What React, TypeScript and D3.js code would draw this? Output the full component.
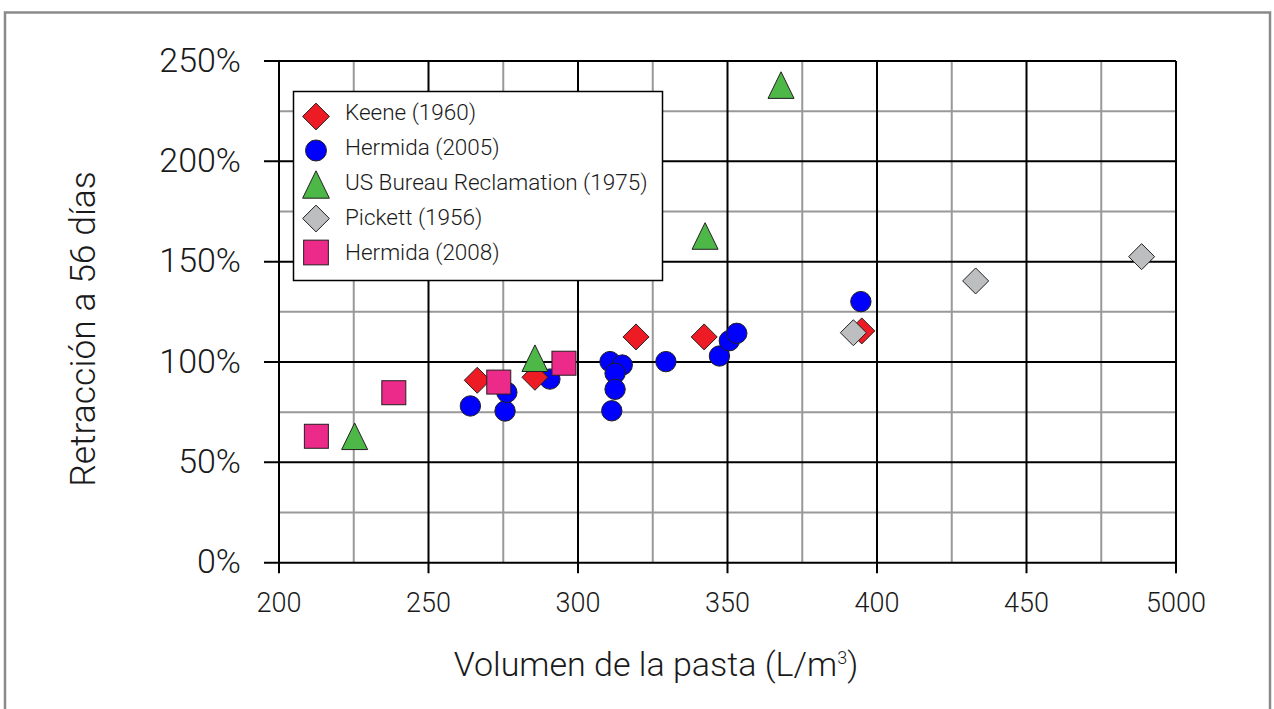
import React from "react";
import * as d3 from "d3";

const xTickValues = [200, 250, 300, 350, 400, 450, 500];
const xTickLabels = ["200", "250", "300", "350", "400", "450", "5000"];
const xMinorValues = [225, 275, 325, 375, 425, 475];
const yTickValues = [0, 50, 100, 150, 200, 250];
const yTickLabels = ["0%", "50%", "100%", "150%", "200%", "250%"];
const yMinorValues = [25, 75, 125, 175, 225];

const keeneX = [266.3, 285.6, 319.4, 342.2, 394.9];
const keeneY = [90.9, 92.4, 112.5, 112.5, 115.5];
const hermida2005X = [264.0, 275.6, 276.2, 290.6, 310.7, 314.8, 312.4, 312.4, 311.3, 329.4, 347.3, 350.6, 353.1, 394.6];
const hermida2005Y = [78.1, 75.6, 84.9, 91.5, 100.2, 98.5, 94.4, 86.4, 75.7, 100.2, 103.0, 110.6, 114.3, 130.1];
const usbrX = [225.3, 285.6, 342.5, 367.9];
const usbrY = [63.0, 101.9, 162.8, 238.0];
const pickettX = [392.1, 433.0, 488.5];
const pickettY = [114.6, 140.4, 152.5];
const hermida2008X = [212.5, 238.4, 273.5, 295.3];
const hermida2008Y = [63.0, 84.7, 90.0, 99.4];

const seriesNames = ["Keene (1960)", "Hermida (2005)", "US Bureau Reclamation (1975)", "Pickett (1956)", "Hermida (2008)"];

const FONT = "Roboto, 'Open Sans', sans-serif";

type Shape = "diamond" | "circle" | "triangle" | "square";

function Marker({ shape, cx, cy, fill, s = 1 }: { shape: Shape; cx: number; cy: number; fill: string; s?: number }) {
  const common = { fill, stroke: "#231f20", strokeWidth: 1 };
  if (shape === "circle") return <circle cx={cx} cy={cy} r={10.2 * s} {...common} />;
  if (shape === "diamond") {
    const h = 13 * s;
    return <path d={`M${cx},${cy - h}L${cx + h},${cy}L${cx},${cy + h}L${cx - h},${cy}Z`} {...common} />;
  }
  if (shape === "triangle") {
    const w = 13 * s, hh = 13.3 * s;
    return <path d={`M${cx},${cy - hh}L${cx + w},${cy + hh}L${cx - w},${cy + hh}Z`} {...common} />;
  }
  const a = 12 * s;
  return <rect x={cx - a} y={cy - a} width={2 * a} height={2 * a} {...common} />;
}

export default function App() {
  const x = d3.scaleLinear().domain([200, 500]).range([279, 1176]);
  const y = d3.scaleLinear().domain([0, 250]).range([562.7, 61]);
  const left = x(200), right = x(500), top = y(250), bottom = y(0);

  const series: { xs: number[]; ys: number[]; shape: Shape; fill: string }[] = [
    { xs: hermida2005X, ys: hermida2005Y, shape: "circle", fill: "#0000ff" },
    { xs: keeneX, ys: keeneY, shape: "diamond", fill: "#ed1c24" },
    { xs: usbrX, ys: usbrY, shape: "triangle", fill: "#4db848" },
    { xs: pickettX, ys: pickettY, shape: "diamond", fill: "#bcbec0" },
    { xs: hermida2008X, ys: hermida2008Y, shape: "square", fill: "#ec2a89" },
  ];
  const legendItems: { shape: Shape; fill: string }[] = [
    { shape: "diamond", fill: "#ed1c24" },
    { shape: "circle", fill: "#0000ff" },
    { shape: "triangle", fill: "#4db848" },
    { shape: "diamond", fill: "#bcbec0" },
    { shape: "square", fill: "#ec2a89" },
  ];

  return (
    <svg width={1274} height={709} style={{ position: "absolute", left: 0, top: 0 }} fontFamily={FONT} fontWeight={300}>
      <rect x={0} y={0} width={1274} height={709} fill="#fff" />
      <rect x={5} y={12.5} width={1265} height={720} fill="none" stroke="#8a8a8a" strokeWidth={2.5} />
      {xMinorValues.map((v) => (
        <line key={"xm" + v} x1={x(v)} x2={x(v)} y1={top} y2={bottom} stroke="#999" strokeWidth={2} />
      ))}
      {yMinorValues.map((v) => (
        <line key={"ym" + v} x1={left} x2={right} y1={y(v)} y2={y(v)} stroke="#999" strokeWidth={2} />
      ))}
      {xTickValues.map((v) => (
        <line key={"xM" + v} x1={x(v)} x2={x(v)} y1={top} y2={bottom + 10.5} stroke="#000" strokeWidth={2} />
      ))}
      {yTickValues.map((v) => (
        <line key={"yM" + v} x1={left - 15} x2={right} y1={y(v)} y2={y(v)} stroke="#000" strokeWidth={2} />
      ))}
      {xTickValues.map((v, i) => (
        <text key={"xl" + v} x={x(v)} y={611.5} textAnchor="middle" fontSize={27} fill="#1a1a1a">
          {xTickLabels[i]}
        </text>
      ))}
      {yTickValues.map((v, i) => (
        <text key={"yl" + v} x={241} y={y(v) + 10.5} textAnchor="end" fontSize={34} fill="#1a1a1a">
          {yTickLabels[i]}
        </text>
      ))}
      <text x={656} y={676} textAnchor="middle" fontSize={34} fill="#1a1a1a">
        Volumen de la pasta (L/m<tspan dy={-12} fontSize={18}>3</tspan><tspan dy={12}>)</tspan>
      </text>
      <text transform="translate(95,329) rotate(-90)" textAnchor="middle" fontSize={35.5} fill="#1a1a1a">
        Retracción a 56 días
      </text>
      {series.map((s, si) => (
        <g key={"s" + si}>
          {s.xs.map((v, i) => (
            <Marker key={i} shape={s.shape} cx={x(v)} cy={y(s.ys[i])} fill={s.fill} />
          ))}
        </g>
      ))}
      <rect x={293.5} y={91.5} width={369} height={189} fill="#fff" stroke="#000" strokeWidth={1.5} />
      {legendItems.map((it, i) => (
        <g key={"lg" + i}>
          <Marker shape={it.shape} cx={316} cy={116.5 + i * 34} fill={it.fill} s={1.03} />
          <text x={345} y={119.5 + i * 35} fontSize={22.5} fill="#1a1a1a">
            {seriesNames[i]}
          </text>
        </g>
      ))}
    </svg>
  );
}
